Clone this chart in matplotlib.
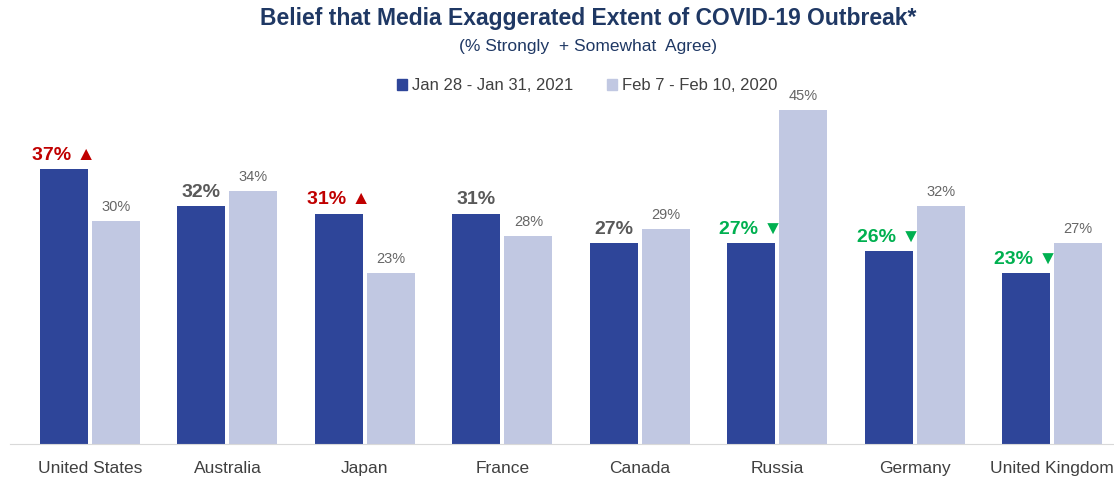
import numpy as np
import matplotlib.pyplot as plt
from matplotlib.patches import Patch

plt.rcParams['font.family'] = ['Liberation Sans', 'DejaVu Sans']

# data
countries = ['United States', 'Australia', 'Japan', 'France', 'Canada',
             'Russia', 'Germany', 'United Kingdom']
jan_2021 = [37, 32, 31, 31, 27, 27, 26, 23]
feb_2020 = [30, 34, 23, 28, 29, 45, 32, 27]
# change marker for the 2021 series: 'up', 'down' or ''
change = ['up', '', 'up', '', '', 'down', 'down', 'down']

dark = '#2E4599'
light = '#C1C8E2'
grey = '#595959'
red = '#C00000'
green = '#00B050'

fig = plt.figure(figsize=(11.14, 4.79), dpi=100)
ax = fig.add_axes([10 / 1114, 35 / 479, 1104 / 1114, 371.5 / 479])

x = np.arange(len(countries))
w = 0.349
off = 0.189

b1 = ax.bar(x - off, jan_2021, w, color=dark)
b2 = ax.bar(x + off, feb_2020, w, color=light)

for xi, v, c in zip(x, jan_2021, change):
    if c == 'up':
        txt, col = f'{v}% ▲', red
    elif c == 'down':
        txt, col = f'{v}% ▼', green
    else:
        txt, col = f'{v}%', grey
    ax.annotate(txt, (xi - off, v), xytext=(0, 4), textcoords='offset points',
                ha='center', va='bottom', fontsize=14, fontweight='bold', color=col)

for xi, v in zip(x, feb_2020):
    ax.annotate(f'{v}%', (xi + off, v), xytext=(0, 5), textcoords='offset points',
                ha='center', va='bottom', fontsize=10.5, color='#666666')

ax.set_xlim(-0.582, 7.45)
ax.set_ylim(0, 50)
ax.set_xticks(x)
ax.set_xticklabels(countries, fontsize=12.5, color='#404040')
ax.tick_params(axis='x', length=0, pad=12)
ax.set_yticks([])
for s in ['top', 'right', 'left']:
    ax.spines[s].set_visible(False)
ax.spines['bottom'].set_color('#D9D9D9')

fig.text(0.528, 1 - 19 / 479, 'Belief that Media Exaggerated Extent of COVID-19 Outbreak*',
         ha='center', va='center', fontsize=16.5, fontweight='bold', color='#1F3864')
fig.text(0.528, 1 - 46 / 479, '(% Strongly  + Somewhat  Agree)',
         ha='center', va='center', fontsize=12.5, color='#1F3864')

handles = [Patch(color=dark, label='Jan 28 - Jan 31, 2021'),
           Patch(color=light, label='Feb 7 - Feb 10, 2020')]
fig.legend(handles=handles, loc='center', bbox_to_anchor=(0.527, 1 - 86 / 479),
           ncol=2, frameon=False, fontsize=12, handlelength=0.6, handleheight=0.6,
           handletextpad=0.3, columnspacing=2.0, labelcolor='#404040')

fig.savefig('out.png', dpi=100)
